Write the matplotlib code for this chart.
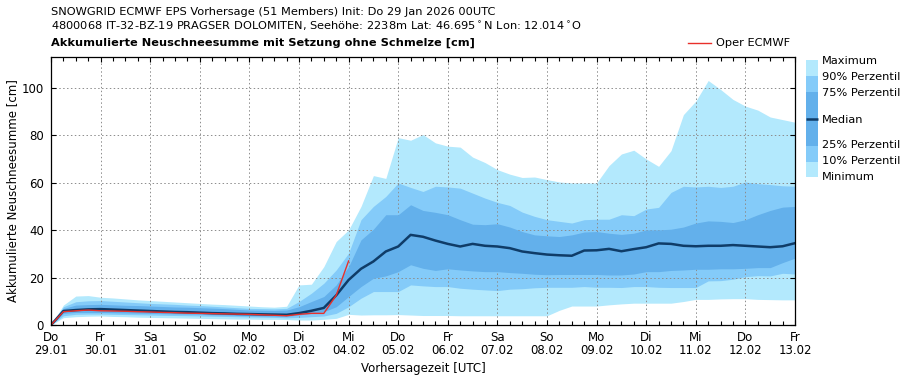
import numpy as np
import matplotlib
matplotlib.use("Agg")
import matplotlib.pyplot as plt
from matplotlib.patches import Rectangle
from matplotlib.lines import Line2D

# lead time in hours (6h steps, 29.01 00UTC .. 13.02 00UTC)
lead_hours = np.arange(0, 361, 6)

q_max = [0, 8.4, 12.2, 12.4, 11.7, 11.4, 11.0, 10.6, 10.3, 10.0, 9.7, 9.4, 9.1, 8.8, 8.6, 8.3,
         8.0, 7.7, 7.5, 7.9, 16.9, 17.2, 24.6, 35.2, 40.1, 50.0, 63.0, 61.8, 79.0, 77.9, 80.3,
         76.8, 75.4, 75.0, 70.8, 68.5, 65.5, 63.6, 62.2, 62.4, 61.3, 60.3, 59.9, 59.9, 59.9,
         67.2, 72.1, 73.7, 70.0, 66.9, 73.5, 88.7, 94.4, 103.1, 99.3, 95.1, 92.3, 90.6, 87.7,
         86.6, 85.5]
q90 = [0, 7.7, 9.8, 10.2, 10.3, 10.0, 9.7, 9.4, 9.1, 8.9, 8.7, 8.4, 8.2, 7.9, 7.6, 7.3,
       7.0, 6.9, 6.8, 7.0, 9.9, 13.4, 17.6, 23.2, 30.3, 44.4, 50.0, 54.2, 59.9, 58.0, 56.3,
       58.5, 58.2, 57.7, 55.6, 53.5, 51.7, 50.4, 47.6, 45.8, 44.4, 43.7, 43.0, 44.4, 44.6,
       44.6, 46.5, 46.1, 48.9, 49.6, 55.9, 58.5, 58.2, 58.5, 58.0, 58.5, 60.3, 59.6, 59.2,
       58.7, 58.5]
q75 = [0, 7.0, 8.4, 8.6, 8.7, 8.5, 8.3, 8.2, 8.0, 7.8, 7.6, 7.5, 7.3, 7.1, 6.9, 6.6,
       6.3, 6.2, 6.1, 6.3, 7.7, 9.9, 12.0, 16.9, 24.6, 35.9, 40.4, 46.5, 46.5, 50.7, 48.3,
       47.5, 46.5, 44.4, 42.5, 42.3, 42.7, 41.3, 39.4, 38.0, 37.6, 37.3, 38.0, 39.2, 39.4,
       38.7, 38.2, 38.7, 40.1, 40.1, 40.4, 41.3, 43.0, 43.9, 43.7, 43.2, 44.4, 46.5, 48.3,
       49.7, 50.0]
median = [0, 5.9, 6.3, 6.6, 6.7, 6.5, 6.3, 6.1, 5.9, 5.7, 5.5, 5.4, 5.2, 5.0, 4.9, 4.7,
          4.6, 4.5, 4.4, 4.3, 5.0, 6.0, 7.2, 12.5, 19.0, 23.7, 26.8, 31.0, 33.1, 38.0, 37.2,
          35.6, 34.2, 33.1, 34.2, 33.4, 33.1, 32.4, 31.0, 30.3, 29.7, 29.4, 29.2, 31.4, 31.5,
          32.1, 31.1, 32.0, 32.8, 34.4, 34.2, 33.4, 33.2, 33.4, 33.4, 33.7, 33.4, 33.1, 32.8,
          33.2, 34.5]
q25 = [0, 4.9, 5.3, 5.3, 5.3, 5.2, 5.1, 5.0, 4.9, 4.8, 4.7, 4.6, 4.5, 4.3, 4.2, 4.0,
       3.9, 3.8, 3.7, 3.6, 4.2, 4.9, 5.6, 7.7, 12.0, 16.2, 19.7, 20.7, 22.5, 25.4, 23.9,
       23.0, 23.7, 23.2, 22.8, 22.5, 22.5, 22.1, 21.8, 21.4, 21.2, 21.3, 21.3, 21.3, 21.3,
       21.1, 21.1, 21.5, 22.5, 22.5, 23.0, 23.2, 23.5, 23.5, 23.7, 23.7, 23.9, 24.2, 24.2,
       26.3, 28.2]
q10 = [0, 3.9, 4.5, 4.6, 4.6, 4.5, 4.4, 4.3, 4.2, 4.1, 4.0, 3.9, 3.8, 3.7, 3.6, 3.5,
       3.4, 3.3, 3.2, 3.0, 3.2, 3.5, 3.8, 4.9, 7.7, 11.3, 14.1, 14.1, 14.1, 16.9, 16.5,
       16.2, 16.2, 15.5, 15.1, 14.8, 14.5, 15.1, 15.3, 15.7, 15.9, 15.9, 15.9, 16.2, 15.9,
       15.9, 15.8, 16.2, 16.2, 15.9, 15.8, 15.8, 15.8, 18.6, 18.7, 19.3, 20.4, 20.8, 20.7,
       21.8, 21.5]
q_min = [0, 3.1, 3.5, 3.7, 3.8, 3.6, 3.5, 3.3, 3.2, 3.1, 3.0, 2.9, 2.8, 2.7, 2.6, 2.5,
         2.5, 2.4, 2.4, 2.3, 2.1, 2.1, 2.4, 2.8, 4.5, 4.2, 4.3, 4.3, 4.4, 4.2, 4.0,
         4.0, 4.0, 3.9, 3.9, 3.9, 3.9, 3.9, 3.9, 3.9, 3.9, 6.2, 8.0, 8.0, 8.0,
         8.5, 8.9, 9.2, 9.2, 9.2, 9.2, 9.9, 10.8, 10.8, 11.0, 11.1, 11.1, 10.8, 10.7,
         10.6, 10.6]
# deterministic run (only first 4 days)
oper = [0, 5.6, 6.0, 6.3, 6.0, 5.9, 5.8, 5.6, 5.5, 5.3, 5.2, 5.0, 4.9, 4.8, 4.7, 4.6,
        4.5, 4.3, 4.1, 3.9, 4.5, 4.9, 4.9, 12.5, 27.0]

day_names = ["Do", "Fr", "Sa", "So", "Mo", "Di", "Mi", "Do", "Fr", "Sa", "So", "Mo", "Di", "Mi", "Do", "Fr"]
day_dates = ["29.01", "30.01", "31.01", "01.02", "02.02", "03.02", "04.02", "05.02", "06.02",
             "07.02", "08.02", "09.02", "10.02", "11.02", "12.02", "13.02"]

C_OUT = "#b3e9fd"
C_MID = "#84cbf9"
C_IN = "#63b0eb"
C_MED = "#0f3c68"
C_OPER = "#e8302a"

plt.rcParams["font.family"] = "DejaVu Sans"
plt.rcParams["font.size"] = 8

fig = plt.figure(figsize=(9.09, 3.80), dpi=100)
ax = fig.add_axes([51 / 909, 55 / 380, 744 / 909, 268 / 380])

x = lead_hours
ax.fill_between(x, q_min, q_max, color=C_OUT, lw=0, zorder=1)
ax.fill_between(x, q10, q90, color=C_MID, lw=0, zorder=2)
ax.fill_between(x, q25, q75, color=C_IN, lw=0, zorder=3)
ax.plot(x, median, color=C_MED, lw=1.8, zorder=6)
ax.plot(x[:len(oper)], oper, color=C_OPER, lw=1.0, zorder=7)

ax.set_xlim(0, 360)
ax.set_ylim(0, 113)
day_ticks = np.arange(0, 361, 24)
ax.set_xticks(day_ticks)
ax.set_xticklabels([f"{n}\n{d}" for n, d in zip(day_names, day_dates)], linespacing=0.95)
ax.set_xticks(np.arange(0, 361, 6), minor=True)
ax.set_yticks([0, 20, 40, 60, 80, 100])
ax.tick_params(which="both", direction="in", top=True, right=True, labelsize=8.5)
ax.tick_params(axis="x", pad=4.5)
ax.tick_params(axis="y", pad=5)
ax.tick_params(which="major", length=3.5, width=0.8)
ax.tick_params(which="minor", length=2.8, width=0.8)
ax.grid(True, which="major", linestyle=(0, (1.5, 2.5)), color="#8c8c8c", lw=0.7, zorder=5)
ax.set_axisbelow(False)
for s in ax.spines.values():
    s.set_linewidth(0.9)
    s.set_zorder(8)

ax.set_xlabel("Vorhersagezeit [UTC]", fontsize=8.5, labelpad=4)
ax.set_ylabel("Akkumulierte Neuschneesumme [cm]", fontsize=8.5, labelpad=2)

fig.text(51 / 909, 1 - 12 / 380, "SNOWGRID ECMWF EPS Vorhersage (51 Members) Init: Do 29 Jan 2026 00UTC",
         fontsize=8.2, va="center")
fig.text(51 / 909, 1 - 26 / 380,
         "4800068 IT-32-BZ-19 PRAGSER DOLOMITEN, Seehöhe: 2238m Lat: 46.695$^\\circ$N Lon: 12.014$^\\circ$O",
         fontsize=8.2, va="center")
fig.text(51 / 909, 1 - 43 / 380, "Akkumulierte Neuschneesumme mit Setzung ohne Schmelze [cm]",
         fontsize=8.2, fontweight="bold", va="center")

# Oper legend
fig.add_artist(Line2D([688 / 909, 711 / 909], [1 - 43 / 380] * 2, color=C_OPER, lw=1.0))
fig.text(716 / 909, 1 - 43 / 380, "Oper ECMWF", fontsize=8.2, va="center")

# percentile legend bar
bx, bw = 806 / 909, 12 / 909
segs = [(60, 75.7, C_OUT), (75.7, 91.7, C_MID), (91.7, 145.7, C_IN),
        (145.7, 161.7, C_MID), (161.7, 177.3, C_OUT)]
for top, bot, c in segs:
    fig.add_artist(Rectangle((bx, 1 - bot / 380), bw, (bot - top) / 380, color=c, lw=0,
                             transform=fig.transFigure))
fig.add_artist(Line2D([bx, bx + bw], [1 - 118.5 / 380] * 2, color=C_MED, lw=1.8,
                      solid_capstyle="butt"))
labels = [("Maximum", 61), ("90% Perzentil", 77), ("75% Perzentil", 93), ("Median", 120),
          ("25% Perzentil", 145), ("10% Perzentil", 161), ("Minimum", 177)]
for lab, yp in labels:
    fig.text(822 / 909, 1 - yp / 380, lab, fontsize=8.2, va="center")

fig.savefig("out.png", dpi=100)
